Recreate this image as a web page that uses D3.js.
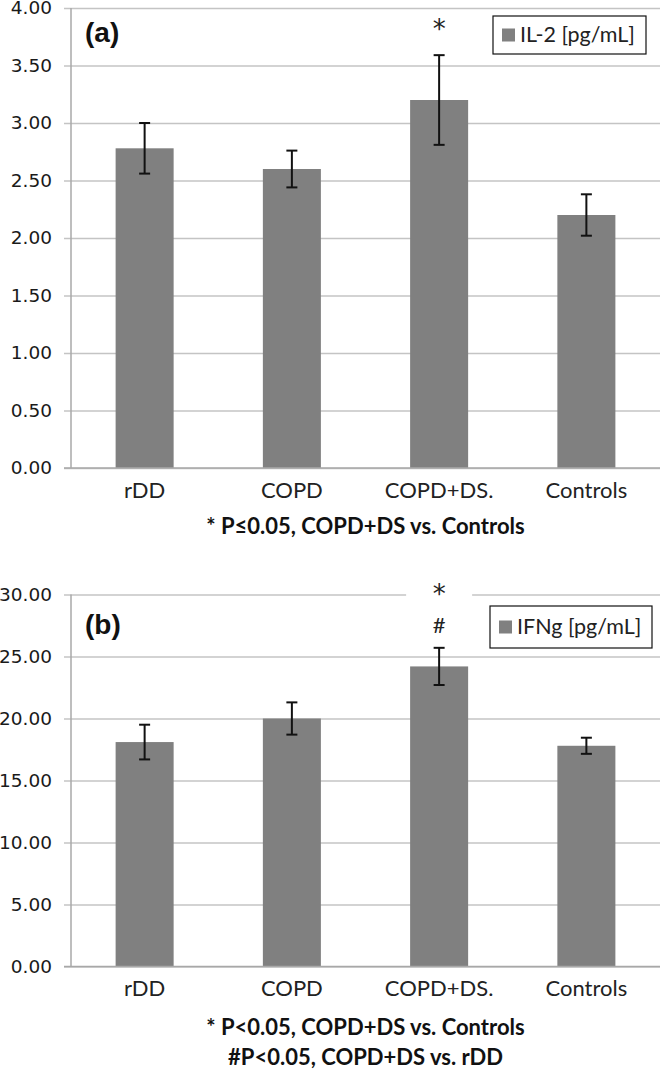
<!DOCTYPE html>
<html><head><meta charset="utf-8">
<script src="https://cdn.jsdelivr.net/npm/d3@7/dist/d3.min.js"></script>
<style>
html,body{margin:0;padding:0;background:#fff;}
svg{display:block;}
</style></head>
<body>
<svg id="chart" width="661" height="1069"></svg>
<script>
const categories = ["rDD", "COPD", "COPD+DS.", "Controls"];
const il2Values = [2.78, 2.60, 3.20, 2.20];
const il2Errors = [0.22, 0.16, 0.39, 0.18];
const il2Ticks = [0, 0.5, 1, 1.5, 2, 2.5, 3, 3.5, 4];
const ifngValues = [18.1, 20.0, 24.2, 17.8];
const ifngErrors = [1.4, 1.3, 1.5, 0.65];
const ifngTicks = [0, 5, 10, 15, 20, 25, 30];
const panelLabels = ["(a)", "(b)"];
const legendLabels = ["IL-2 [pg/mL]", "IFNg [pg/mL]"];
const footnotesA = ["* P\u22640.05, COPD+DS vs. Controls"];
const footnotesB = ["* P<0.05, COPD+DS vs. Controls", "#P<0.05, COPD+DS vs. rDD"];
const markersA = ["*"];
const markersB = ["*", "#"];
const markedCategory = "COPD+DS.";

const svg = d3.select("#chart");
const BAR = "#808080", GRID = "#c4c4c4", AXIS = "#a8a8a8";
const SANS = "Lato, 'Open Sans', sans-serif";
const TICKFONT = "'DejaVu Sans', Verdana, sans-serif";

function panel(opt) {
  const g = svg.append("g");
  const x = d3.scaleBand().domain(categories).range([opt.left, opt.right])
    .paddingInner(0.606).paddingOuter(0.303);
  const y = d3.scaleLinear().domain([0, opt.max]).range([opt.bottom, opt.top]);
  const cx = x(markedCategory) + x.bandwidth() / 2;

  // gridlines + tick labels
  const ax = g.append("g").attr("transform", `translate(${opt.right},0)`)
    .call(d3.axisLeft(y).tickValues(opt.ticks).tickFormat(d3.format(".2f"))
      .tickSize(opt.right - opt.left + 7).tickPadding(12));
  ax.select(".domain").remove();
  ax.selectAll(".tick line").attr("stroke", GRID).attr("stroke-width", 1.5);
  ax.selectAll(".tick text").attr("font-family", TICKFONT).attr("font-size", 18.5).attr("fill", "#1a1a1a");

  // gap in top gridline behind annotation
  if (opt.gap) {
    g.append("rect").attr("x", cx - 33).attr("y", y(opt.max) - 8)
      .attr("width", 66).attr("height", 16).attr("fill", "#fff");
  }

  // bars
  g.selectAll("rect.bar").data(opt.values).join("rect").attr("class", "bar")
    .attr("x", (d, i) => x(categories[i])).attr("width", x.bandwidth())
    .attr("y", d => y(d)).attr("height", d => y(0) - y(d)).attr("fill", BAR);

  // error bars
  const eb = g.selectAll("g.err").data(opt.values).join("g").attr("class", "err")
    .attr("transform", (d, i) => `translate(${x(categories[i]) + x.bandwidth() / 2},0)`);
  eb.append("line").attr("y1", (d, i) => y(d + opt.errors[i])).attr("y2", (d, i) => y(d - opt.errors[i]))
    .attr("stroke", "#111").attr("stroke-width", 2);
  eb.append("line").attr("x1", -5.5).attr("x2", 5.5)
    .attr("y1", (d, i) => y(d + opt.errors[i])).attr("y2", (d, i) => y(d + opt.errors[i]))
    .attr("stroke", "#111").attr("stroke-width", 2);
  eb.append("line").attr("x1", -5.5).attr("x2", 5.5)
    .attr("y1", (d, i) => y(d - opt.errors[i])).attr("y2", (d, i) => y(d - opt.errors[i]))
    .attr("stroke", "#111").attr("stroke-width", 2);

  // axes lines
  g.append("line").attr("x1", opt.left).attr("x2", opt.left).attr("y1", y(opt.max)).attr("y2", y(0))
    .attr("stroke", AXIS).attr("stroke-width", 1.5);
  g.append("line").attr("x1", opt.left - 7).attr("x2", opt.right).attr("y1", y(0)).attr("y2", y(0))
    .attr("stroke", AXIS).attr("stroke-width", 1.5);

  // category labels
  const xa = g.append("g").attr("transform", `translate(0,${y(0)})`)
    .call(d3.axisBottom(x).tickSize(0).tickPadding(14));
  xa.select(".domain").remove();
  xa.selectAll(".tick text").attr("font-family", SANS).attr("font-size", 22).attr("fill", "#222");

  // panel label
  g.append("text").attr("x", opt.left + 14).attr("y", opt.labelY).text(opt.label)
    .attr("font-family", "'Liberation Sans', Arial, sans-serif").attr("font-weight", "bold")
    .attr("font-size", 28).attr("fill", "#111");

  // legend
  const lg = g.append("g");
  lg.append("rect").attr("x", opt.legend.x).attr("y", opt.legend.y).attr("width", opt.legend.w)
    .attr("height", opt.legend.h).attr("fill", "#fff").attr("stroke", "#111").attr("stroke-width", 1.2);
  lg.append("rect").attr("x", opt.legend.x + 9).attr("y", opt.legend.y + opt.legend.h / 2 - 6.5)
    .attr("width", 13).attr("height", 13).attr("fill", BAR);
  lg.append("text").attr("x", opt.legend.x + 27).attr("y", opt.legend.y + opt.legend.h / 2 + 7)
    .text(opt.legendLabel).attr("font-family", SANS).attr("font-size", 21.5).attr("fill", "#222");

  // significance markers
  opt.markers.forEach((m, i) => {
    g.append("text").attr("x", cx).attr("y", opt.markerY[i]).attr("text-anchor", "middle")
      .text(m).attr("font-family", m === "*" ? TICKFONT : SANS)
      .attr("font-size", m === "*" ? 26 : 22).attr("fill", "#222");
  });

  // footnotes
  opt.footnotes.forEach((f, i) => {
    g.append("text").attr("x", (opt.left + opt.right) / 2).attr("y", opt.footY + i * 30)
      .attr("text-anchor", "middle").text(f).attr("font-family", SANS).attr("font-weight", "bold")
      .attr("font-size", 22).attr("fill", "#111");
  });
}

panel({
  left: 71, right: 660, top: 8, bottom: 468, max: 4, ticks: il2Ticks,
  values: il2Values, errors: il2Errors, label: panelLabels[0], labelY: 42,
  legend: { x: 493, y: 16, w: 153, h: 38 }, legendLabel: legendLabels[0],
  markers: markersA, markerY: [38], gap: false, footnotes: footnotesA, footY: 534
});
panel({
  left: 71, right: 660, top: 594.5, bottom: 966.5, max: 30, ticks: ifngTicks,
  values: ifngValues, errors: ifngErrors, label: panelLabels[1], labelY: 634,
  legend: { x: 490, y: 606, w: 162, h: 42 }, legendLabel: legendLabels[1],
  markers: markersB, markerY: [603, 633], gap: true, footnotes: footnotesB, footY: 1035
});
</script>
</body></html>
